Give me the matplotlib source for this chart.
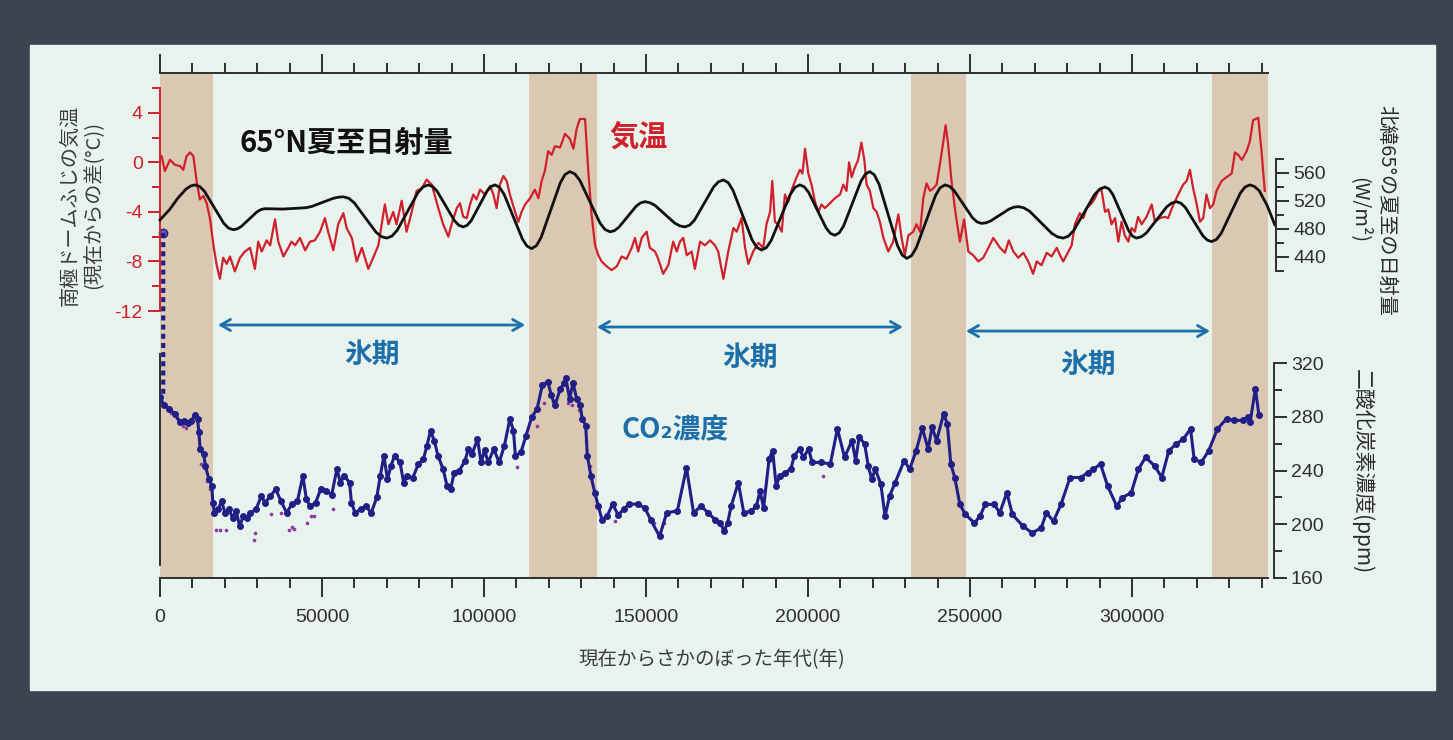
"""Antarctic Dome Fuji temperature, 65N summer insolation and CO2 over 340 kyr."""

import matplotlib

matplotlib.use("Agg")

import matplotlib.pyplot as plt
from matplotlib.patches import ConnectionPatch, Rectangle
from matplotlib.ticker import FixedLocator, FuncFormatter, MultipleLocator
import numpy as np

plt.rcParams["font.family"] = ["Liberation Sans", "Noto Sans CJK JP", "DejaVu Sans"]
plt.rcParams["axes.unicode_minus"] = False
JP = ["Noto Sans CJK JP", "DejaVu Sans"]

W, H = 1453, 740

FRAME = "#3a444e"
PANEL = "#e8f3ee"
TAN = "#dac8b2"
RED = "#d0202c"
NAVY = "#1f1f85"
PURPLE = "#8c3c9c"
BLUE = "#1c6fa8"
INK = "#2e2e2e"

# interglacial periods (kyr before present)
BAND_START = [0, 114.0, 231.9, 324.8]
BAND_END = [16.3, 134.8, 248.7, 342.0]

# glacial periods marked with arrows (kyr)
GLACIAL_START = [17.9, 134.9, 248.8]
GLACIAL_END = [112.7, 229.3, 324.1]

# Dome Fuji temperature anomaly (degC) vs age (kyr)
TEMP_AGE = [
    0.0, 0.5, 1.5, 3.1, 4.6, 6.2, 7.2, 8.2, 9.3, 10.3, 11.3, 12.3, 13.4, 14.4, 15.4,
    16.5, 17.5, 18.5, 19.5, 20.6, 21.6, 23.1, 24.7, 26.2, 27.8, 29.3, 30.3, 31.4,
    32.9, 34.0, 35.5, 36.5, 38.1, 39.6, 40.6, 41.7, 43.2, 44.8, 46.3, 47.8, 49.4,
    50.9, 51.9, 53.5, 55.0, 56.6, 57.6, 59.2, 60.7, 62.3, 64.3, 65.8, 67.4, 69.4,
    70.5, 72.0, 73.0, 74.6, 76.1, 77.7, 79.2, 80.8, 82.3, 83.9,
    85.9, 87.4, 89.0, 90.0, 91.6, 92.6, 93.6, 94.7, 95.7, 96.7, 97.7, 98.8, 100.3,
    101.9, 102.9, 103.9, 104.9, 106.0, 107.0, 108.0, 109.6, 110.6, 111.6, 112.7,
    114.2, 115.7, 116.8, 117.8, 118.8, 119.8, 120.9, 121.9, 123.5, 125.0, 126.5,
    127.6, 128.6, 129.6, 131.2, 132.2, 133.2, 134.3, 135.3, 136.3, 137.9, 139.4,
    141.0, 142.5, 144.0, 145.6, 146.6, 147.6, 148.7, 150.2, 151.2, 152.8, 153.8,
    155.3, 156.9, 158.4, 159.5, 160.5, 161.5, 162.6, 164.1, 165.1, 166.7, 168.2,
    169.8,
    171.3, 172.3, 173.9, 175.4, 177.0, 178.0, 179.5, 180.6, 181.6, 183.1, 184.7,
    186.2, 187.2, 188.3, 189.0, 189.8, 190.8, 191.9, 192.9, 193.9, 195.0, 196.5,
    197.5, 198.3, 199.1, 200.1, 201.1, 202.2, 203.2, 204.2, 205.2, 206.8, 208.3,
    209.9, 210.9, 211.9, 212.7, 213.5, 214.5, 215.5, 216.5, 217.4, 218.1, 219.1,
    220.2, 221.2, 222.2, 223.3, 224.8, 226.3, 227.9, 228.9, 229.9, 231.0, 232.5,
    233.5, 234.6, 235.6, 236.6, 237.7, 238.7, 239.7, 240.7, 241.8, 242.5, 243.3,
    244.3, 245.6, 246.9, 248.2, 249.5, 251.0, 252.6, 254.1, 255.7, 257.2,
    259.3, 260.8, 262.0, 263.4, 264.9, 266.5, 268.0, 269.5, 270.6, 272.1, 273.7,
    275.2, 276.8, 277.8, 278.8, 279.8, 281.4, 282.4, 283.9, 285.0, 286.0, 287.6,
    288.6, 289.6, 290.6, 291.7, 292.7, 293.7, 294.8, 295.8, 296.8, 297.8, 298.9,
    299.9, 300.9, 301.9, 303.0, 304.5, 306.1, 307.1, 308.6, 310.2, 311.2, 312.8,
    314.3, 315.8, 316.9, 317.9, 318.9, 320.0, 321.0, 322.0, 323.0, 324.1, 325.1,
    326.1, 327.7, 329.2, 330.8, 331.8, 332.8, 333.9, 335.4, 336.4, 337.4, 339.0,
    340.0, 341.0,
]
TEMP = [
    0.6, 0.5, -0.7, 0.2, -0.2, -0.3, -0.6, 0.5, 0.8, 0.5, -1.5, -3.0, -2.7, -3.3, -4.5,
    -6.7, -8.3, -9.4, -7.7, -8.2, -7.6, -8.8, -7.7, -7.2, -6.9, -8.6, -6.4, -7.2,
    -6.3, -6.7, -4.6, -6.4, -7.6, -6.9, -6.4, -6.7, -6.1, -7.1, -6.4, -6.3, -5.6,
    -4.5, -5.6, -7.1, -5.0, -4.1, -5.3, -6.1, -8.0, -6.9, -8.6, -7.7, -6.7, -3.4,
    -5.0, -4.0, -5.0, -3.1, -5.6, -4.0, -2.3, -2.1, -1.4, -1.8,
    -3.7, -5.0, -6.0, -5.0, -3.7, -3.3, -4.4, -4.5, -3.4, -2.6, -3.0, -2.2, -2.6,
    -1.9, -2.6, -3.7, -1.8, -1.1, -1.5, -2.6, -4.0, -4.8, -4.0, -3.4,
    -2.9, -2.2, -2.9, -1.5, -0.7, 0.9, 0.6, 1.3, 1.2, 2.3, 1.9,
    1.1, 2.7, 3.5, 3.5, -0.7, -4.2, -6.7, -7.5, -8.0, -8.4, -8.7,
    -8.4, -7.6, -7.8, -6.9, -6.1, -7.2, -6.1, -5.6, -6.9, -7.2, -7.8,
    -9.0, -8.3, -6.4, -7.2, -6.4, -6.1, -7.5, -7.2, -8.6, -6.4, -6.7,
    -6.3,
    -6.7, -7.2, -9.4, -7.2, -5.3, -5.6, -4.5, -6.9, -8.2, -7.2, -6.5,
    -6.9, -5.0, -4.0, -1.5, -4.8, -5.0, -5.6, -2.6, -3.2, -2.2, -1.2,
    -0.6, -0.9, 1.1, -0.9, -1.8, -3.2, -4.0, -3.4, -3.7, -3.3, -2.9,
    -2.6, -1.8, -2.3, 0.0, -1.2, -0.4, 0.2, 1.6, 0.2, -1.8, -2.3,
    -3.7, -4.0, -4.8, -6.1, -7.2, -6.4, -4.2, -6.1, -7.5, -5.9, -5.6,
    -5.0, -5.6, -2.9, -1.7, -2.3, -2.1, -1.8, -0.2, 1.7, 3.0, 1.4,
    -1.5, -4.2, -6.4, -4.6, -7.2, -7.5, -8.0, -7.7, -6.9, -6.1,
    -6.9, -7.3, -6.3, -7.2, -7.7, -7.3, -8.0, -9.0, -8.0, -8.3, -7.3,
    -7.6, -6.9, -7.5, -8.0, -7.5, -6.7, -5.0, -4.1, -4.5, -3.7, -3.3,
    -2.9, -2.3, -2.2, -4.0, -3.8, -5.0, -4.5, -6.4, -4.8, -5.9, -6.4,
    -5.3, -5.6, -4.4, -5.0, -4.4, -3.4, -4.8, -4.5, -4.4, -4.5, -3.4,
    -2.6, -1.8, -1.5, -0.6, -2.1, -3.4, -4.8, -4.5, -2.6, -3.7, -3.4,
    -2.3, -1.5, -1.2, -0.9, 0.8, 0.6, 0.2, 0.9, 1.7, 3.4, 3.6,
    0.9, -2.3,
]

# 65N summer solstice insolation (W/m2) vs age (kyr), one row per half cycle
INS_AGE = [
    0, 3, 5.5, 8, 9.5, 10.8,
    12.3, 13.75, 16.7, 19.65, 21.1, 22.6,
    23.8, 25.05, 27.5, 29.95, 31.2, 32.4,
    38, 43.7,
    45.3, 46.9, 50.15, 53.4, 55.0, 56.6,
    58.3, 59.95, 63.3, 66.65, 68.3, 70.0,
    71.6, 73.2, 76.4, 79.6, 81.2, 82.8,
    84.15, 85.5, 88.2, 90.9, 92.25, 93.6,
    94.8, 96.05, 98.5, 100.95, 102.2, 103.4,
    104.8, 106.2, 109.05, 111.9, 113.3, 114.7,
    116.2, 117.65, 120.6, 123.55, 125.0, 126.5,
    128.05, 129.6, 132.7, 135.8, 137.35, 138.9,
    140.25, 141.6, 144.3, 147.0, 148.35, 149.7,
    151.2, 152.8, 155.85, 158.9, 160.5, 162.0,
    163.5, 165.0, 167.95, 170.9, 172.4, 173.9,
    175.4, 176.85, 179.8, 182.75, 184.2, 185.7,
    187.2, 188.65, 191.6, 194.55, 196.0, 197.5,
    198.85, 200.2, 202.9, 205.6, 206.95, 208.3,
    209.65, 211.0, 213.7, 216.4, 217.75, 219.1,
    220.5, 221.95, 224.8, 227.65, 229.1, 230.5,
    232.0, 233.45, 236.4, 239.35, 240.8, 242.3,
    243.7, 245.1, 247.95, 250.8, 252.2, 253.6,
    255.0, 256.4, 259.25, 262.1, 263.5, 264.9,
    266.6, 268.4, 271.85, 275.3, 277.1, 278.8,
    280.4, 282.0, 285.25, 288.5, 290.1, 291.7,
    292.9, 294.1, 296.55, 299.0, 300.2, 301.4,
    302.95, 304.5, 307.6, 310.7, 312.25, 313.8,
    315.15, 316.5, 319.2, 321.9, 323.25, 324.6,
    326.1, 327.55, 330.5, 333.45, 334.9, 336.4,
    337.8, 339.3, 341.7, 344.1,
]
INSOLATION = [
    493, 508, 524, 537, 541.5, 543,
    540.6, 533.7, 511, 488.3, 481.4, 479,
    480.1, 483.4, 494, 504.6, 507.9, 509,
    508.5, 510,
    510.6, 512.3, 518, 523.7, 525.4, 526,
    523.8, 517.4, 496.5, 475.6, 469.2, 467,
    469.9, 478.1, 505, 531.9, 540.1, 543,
    540.7, 534.2, 513, 491.8, 485.3, 483,
    485.3, 491.8, 513, 534.2, 540.7, 543,
    539.5, 529.7, 497.5, 465.3, 455.5, 452,
    456.2, 468.1, 507, 545.9, 557.8, 562,
    558.7, 549.4, 519, 488.6, 479.3, 476,
    477.6, 482.3, 497.5, 512.7, 517.4, 519,
    517.6, 513.7, 501, 488.3, 484.4, 483,
    485.5, 492.8, 516.5, 540.2, 547.5, 550,
    546.2, 535.4, 500, 464.6, 453.8, 450,
    453.5, 463.6, 496.5, 529.4, 539.5, 543,
    540.3, 532.5, 507, 481.5, 473.7, 471,
    474.5, 484.3, 516.5, 548.7, 558.5, 562,
    557.3, 543.9, 500, 456.1, 442.7, 438,
    442.0, 453.3, 490.5, 527.7, 539.0, 543,
    540.9, 535, 515.5, 496, 490.1, 488,
    488.9, 491.5, 500, 508.5, 511.1, 512,
    510.3, 505.4, 489.5, 473.6, 468.7, 467,
    469.8, 477.7, 503.5, 529.3, 537.2, 540,
    537.2, 529.3, 503.5, 477.7, 469.8, 467,
    469.0, 474.6, 493, 511.4, 517.0, 519,
    516.8, 510.7, 490.5, 470.3, 464.2, 462,
    465.1, 473.8, 502.5, 531.2, 539.9, 543,
    540.8, 534.6, 514, 486,
]

# CO2 concentration (ppm) vs age (kyr)
CO2_AGE = [
    0.0, 1.2, 2.9, 4.6, 6.2, 7.4, 8.5, 9.6, 10.7, 11.6, 12.0, 12.4, 13.5, 14.0, 15.1,
    16.0, 16.3, 16.8, 17.9, 19.0, 20.1, 21.3, 22.4, 23.5, 24.6, 25.7, 26.8, 27.9,
    29.6, 31.3, 32.4, 34.1, 35.7, 37.4, 39.1, 40.7, 42.4, 44.1, 45.2, 46.3, 48.0,
    49.6, 51.3, 53.0, 54.6, 55.7, 56.9, 58.5, 59.1, 60.2, 61.9, 63.5, 65.2, 66.9,
    68.0, 69.1, 70.2, 71.3, 72.4, 74.1, 75.2, 76.3, 78.0, 79.7, 81.3, 82.4, 83.5,
    84.7, 85.8, 87.4, 88.6, 89.7, 90.8, 92.4, 94.1, 95.2, 96.3, 98.0, 99.1, 100.2,
    101.3, 103.0, 104.7, 106.3, 108.0, 109.1, 109.7, 111.4, 113.0, 114.7, 116.4,
    118.0, 119.7, 120.8, 121.9, 123.6, 124.7, 125.3, 126.4, 127.5, 128.6, 129.7,
    130.3, 131.4, 131.9, 133.0, 134.2, 135.3, 136.4, 138.0, 139.7, 141.4, 143.1,
    144.7, 147.5, 149.7, 151.4, 154.2, 156.4, 159.7, 162.5, 164.7, 167.0, 169.2,
    171.3, 173.0, 174.1, 175.2, 176.3, 178.5, 180.2, 182.4, 184.1, 185.2, 186.3,
    188.0, 189.1, 190.2, 191.3, 193.0, 194.7, 195.8, 197.4, 198.6, 200.2, 201.3,
    204.1, 206.9, 209.1, 211.3, 213.6, 214.7, 215.8, 217.5, 218.6, 219.7, 220.8,
    222.5, 223.8, 225.2, 226.9, 229.7, 231.4, 233.4, 235.3, 237.1, 238.3, 239.7,
    241.9, 243.0, 244.1, 245.3, 246.9, 248.6, 251.4, 253.1, 254.7, 257.5, 259.2,
    261.4, 263.1, 266.4, 269.2, 272.0, 273.6, 275.8, 278.1, 280.9, 284.2, 286.4,
    288.1, 290.3, 292.5, 295.3, 297.0, 299.8, 302.0, 304.2, 307.0, 309.2, 311.4,
    313.7, 315.9, 318.1, 319.2, 321.4, 323.7, 326.4, 329.2, 331.5, 334.2, 335.9,
    336.5, 338.1, 339.2,
]
CO2 = [
    295, 288.5, 286, 282, 276, 277, 275, 277, 281, 278.5, 268.5, 256, 252, 243.5, 233.5,
    228.5, 216, 208.5, 211, 217, 208.5, 211, 205, 210, 198.5, 206, 205, 208.5,
    211, 221, 216, 221, 226, 217, 208.5, 215, 217, 236, 218.5, 213.5, 216,
    226, 225, 222, 241, 231, 236, 231, 216, 208.5, 211, 213.5, 208.5, 220,
    236, 251, 233.5, 243.5, 251, 246, 231, 236, 234.5, 244.5, 248.5, 258.5, 269.5,
    262, 251, 241, 228.5, 226, 238.5, 240, 247, 256, 252, 263.5, 246, 255,
    246, 256, 246, 258.5, 278.5, 269.5, 251, 253.5, 266, 279.5, 286,
    303.5, 306, 296, 288.5, 301, 305, 308.5, 293.5, 305, 293.5, 288.5,
    278.5, 273.5, 251, 236, 223.5, 213.5, 203.5, 206, 215, 207, 211,
    215, 215, 212, 203.5, 191, 208.5, 210, 242, 208.5, 213.5, 208.5,
    203.5, 201, 194.8, 201, 213.5, 231, 208.5, 209.8, 213.5, 224.8, 212.3,
    248.5, 254.8, 228.5, 236, 238.5, 241, 251, 256, 249.8, 256, 246,
    246, 244.8, 271, 249.8, 262.3, 247.3, 264.8, 259.8, 243.5, 233.5, 241,
    229.8, 206, 221, 231, 247.3, 241, 254.8, 271.5, 256, 272.3, 262.3,
    282.3, 274.8, 244.8, 234.8, 214.8, 207.3, 201, 206, 214.8, 214.8, 208.5,
    223.5, 207.3, 198.5, 193.5, 197.3, 208.5, 202.3, 214.8, 234.8, 234.8, 238.5,
    241, 244.8, 228.5, 213.5, 219.8, 223.5, 241, 249.8, 243.5, 234.8, 254.8,
    259.8, 263.5, 271, 248.5, 246, 254.8, 271, 278.5, 277.3, 277.3, 279.8,
    276, 301, 281,
]

# second CO2 record, drawn as small dots
CO2B_AGE = [
    3.5, 5.2, 7.0, 8.0, 12.8, 14.5, 15.5, 17.4, 18.5, 20.5, 29.0, 29.3, 34.3, 37.4,
    39.8, 40.8, 41.5, 45.3, 46.6, 47.4, 53.5, 110.2, 116.3, 118.6, 121.4, 125.9,
    127.2, 129.2, 131.6, 132.6, 140.4, 152.5, 155.5, 204.7,
]
CO2B = [
    283, 279, 273, 272, 245, 232, 226, 196, 196, 195.5, 188.5, 193.5, 207.5, 208.5,
    196, 198, 196.5, 201, 206.5, 206, 211.5, 242.3, 273.5, 290, 292, 290,
    289, 285, 262, 243, 202.5, 201, 201, 236,
]

# ice-core tie point linking the temperature and CO2 panels
TIE_AGE = 1.0
TIE_TEMP = -5.7
TIE_CO2 = 297


def _rect(x0, y0, x1, y1):
    """Figure-fraction rectangle from pixel edges (origin top-left)."""
    return [x0 / W, 1 - y1 / H, (x1 - x0) / W, (y1 - y0) / H]


def _only_spine(ax, side, color):
    for name, spine in ax.spines.items():
        spine.set_visible(name == side)
    ax.spines[side].set_color(color)
    ax.spines[side].set_linewidth(1.4)
    ax.patch.set_visible(False)
    ax.set_xlim(0, 342000)
    ax.set_xticks([])


def _y_ticks(ax, major, color):
    ax.yaxis.set_major_locator(FixedLocator(major))
    ax.yaxis.set_minor_locator(MultipleLocator((major[1] - major[0]) / 2))
    ax.tick_params(axis="y", which="both", direction="out", color=color, width=1.4,
                   labelsize=14, labelcolor=color)
    ax.tick_params(axis="y", which="major", length=9)
    ax.tick_params(axis="y", which="minor", length=6)


fig = plt.figure(figsize=(W / 100, H / 100), dpi=100)
fig.patch.set_facecolor(FRAME)
fig.add_artist(Rectangle((30 / W, 1 - 690 / H), 1405 / W, 645 / H,
                         transform=fig.transFigure, color=PANEL, zorder=-1))

# base axes: shaded interglacials and the shared age axis
ax = fig.add_axes(_rect(160, 73, 1268, 578))
ax.set_facecolor("none")
ax.set_xlim(0, 342000)
ax.set_ylim(0, 1)
ax.set_yticks([])
for side in ("left", "right"):
    ax.spines[side].set_visible(False)
for side in ("top", "bottom"):
    ax.spines[side].set_color(INK)
    ax.spines[side].set_linewidth(1.4)
ax.xaxis.set_major_locator(MultipleLocator(50000))
ax.xaxis.set_minor_locator(MultipleLocator(10000))
ax.xaxis.set_major_formatter(FuncFormatter(lambda v, _: f"{int(v)}"))
ax.tick_params(axis="x", which="both", top=True, direction="out", color=INK, width=1.4)
ax.tick_params(axis="x", which="major", length=14, labelsize=14, labelcolor=INK, pad=8)
ax.tick_params(axis="x", which="minor", length=7)
for start, end in zip(BAND_START, BAND_END):
    ax.axvspan(start * 1000, end * 1000, color=TAN, lw=0, zorder=0)

ax.text(57.4e3, 0.861, "65°N夏至日射量", fontsize=21, fontweight="bold", color="#111111",
        ha="center", va="center", family=JP)
ax.text(147.8e3, 0.873, "気温", fontsize=21, fontweight="bold", color=RED,
        ha="center", va="center", family=JP)
ax.text(159e3, 0.293, "CO₂濃度", fontsize=20, fontweight="bold", color=BLUE,
        ha="center", va="center", family=JP)
for start, end, y, ly in zip(GLACIAL_START, GLACIAL_END, [0.501, 0.497, 0.489],
                             [0.442, 0.436, 0.422]):
    ax.annotate("", xy=(end * 1000, y), xytext=(start * 1000, y),
                arrowprops=dict(arrowstyle="<->,head_length=0.7,head_width=0.4",
                                color=BLUE, lw=2, shrinkA=0, shrinkB=0))
    ax.text((start + end) / 2 * 1000, ly, "氷期", fontsize=20, fontweight="bold",
            color=BLUE, ha="center", va="center", family=JP)

# CO2 panel
ax_c = fig.add_axes(_rect(160, 349.6, 1268, 578))
for name, spine in ax_c.spines.items():
    spine.set_visible(name in ("left", "right"))
    spine.set_color(INK)
    spine.set_linewidth(1.4)
ax_c.patch.set_visible(False)
ax_c.set_xlim(0, 342000)
ax_c.set_xticks([])
ax_c.set_ylim(160, 330)
ax_c.spines["left"].set_bounds(170, 327)
ax_c.spines["right"].set_bounds(160, 320)
ax_c.spines["right"].set_position(("outward", 4))
ax_c.yaxis.tick_right()
_y_ticks(ax_c, [160, 200, 240, 280, 320], INK)
ax_c.scatter(np.array(CO2B_AGE) * 1000, CO2B, s=7, color=PURPLE, lw=0, zorder=2)
ax_c.plot(np.array(CO2_AGE) * 1000, CO2, color=NAVY, lw=2.2, marker="o", ms=4,
          zorder=3)

# temperature panel
ax_t = fig.add_axes(_rect(160, 88, 1268, 311))
_only_spine(ax_t, "left", RED)
ax_t.set_ylim(-12, 6)
_y_ticks(ax_t, [-12, -8, -4, 0, 4], RED)
ax_t.plot(np.array(TEMP_AGE) * 1000, TEMP, color=RED, lw=1.6)

# insolation panel
ax_i = fig.add_axes(_rect(160, 159, 1268, 271))
_only_spine(ax_i, "right", INK)
ax_i.set_ylim(420, 580)
ax_i.spines["right"].set_position(("outward", 6))
ax_i.yaxis.tick_right()
_y_ticks(ax_i, [440, 480, 520, 560], INK)
ax_i.plot(np.array(INS_AGE) * 1000, INSOLATION, color="#111111", lw=2.0,
          solid_joinstyle="round", clip_on=False)

# dotted tie line between the two records
tie = ConnectionPatch(xyA=(TIE_AGE * 1000, TIE_TEMP), coordsA=ax_t.transData,
                      xyB=(TIE_AGE * 1000, TIE_CO2), coordsB=ax_c.transData,
                      color=NAVY, lw=3, linestyle=(0, (1.2, 1.0)), capstyle="butt",
                      zorder=5)
fig.add_artist(tie)
ax_t.plot([TIE_AGE * 1000], [TIE_TEMP], "o", color=NAVY, mfc="#5a5ab8", ms=6,
          clip_on=False)

# axis titles
fig.text(82 / W, 1 - 205 / H, "南極ドームふじの気温\n(現在からの差(°C))", rotation=90,
         ha="center", va="center", fontsize=14.5, color="#3c3c3c", family=JP,
         linespacing=1.2)
fig.text(1373 / W, 1 - 210 / H, "北緯65°の夏至の日射量\n(W/m²)", rotation=270,
         ha="center", va="center", fontsize=14.5, color="#2a2a2a", family=JP,
         linespacing=1.25)
fig.text(1362 / W, 1 - 472 / H, "二酸化炭素濃度(ppm)", rotation=270,
         ha="center", va="center", fontsize=15, color="#2a2a2a", family=JP)
fig.text(712 / W, 1 - 660 / H, "現在からさかのぼった年代(年)", ha="center", va="center",
         fontsize=14, color="#3c3c3c", family=JP)

fig.savefig("out.png", dpi=100, facecolor=FRAME)
